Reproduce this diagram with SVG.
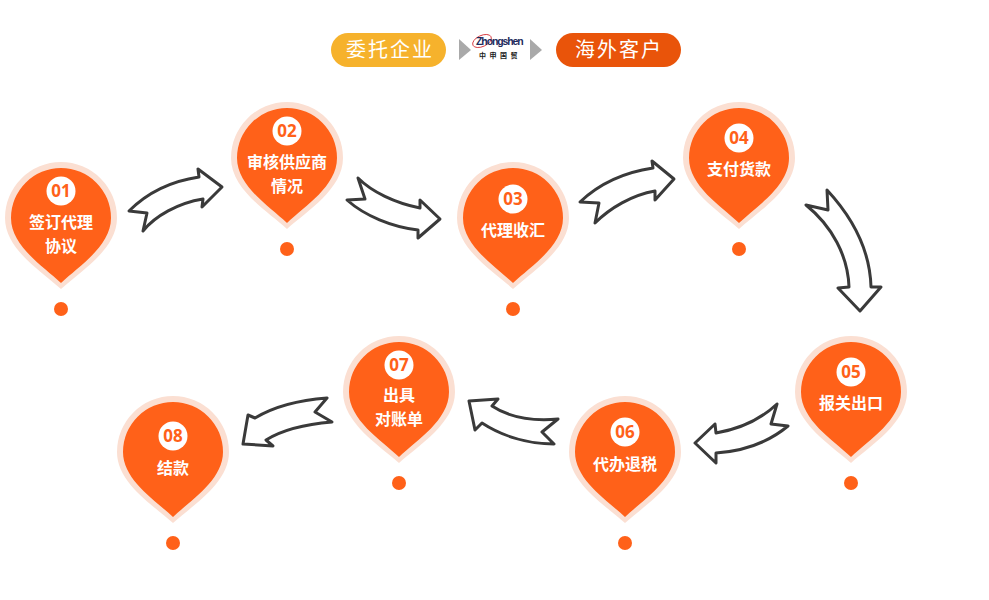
<svg xmlns="http://www.w3.org/2000/svg" width="989" height="600" viewBox="0 0 989 600">
<style>
.halo{fill:#fbdfd2}
.body{fill:#ff6119}
.dot{fill:#ff6119}
.badge{fill:#fff}
.num{font:700 17px "Open Sans","Noto Sans",sans-serif;fill:#ff6119;text-anchor:middle}
.lbl{font:700 16px "Noto Sans CJK SC",sans-serif;fill:#fff;text-anchor:middle}
.pill{font:400 20px "Noto Sans CJK SC",sans-serif;fill:#fff;text-anchor:middle;letter-spacing:2px}
.arrow{fill:#fff;stroke:#3a3a3a;stroke-width:3;stroke-linejoin:round}
.tri{fill:#a9a9a9}
</style>
<defs>
<path id="halo" d="M0,71 C-20,53 -56,31 -56,0 A56,56 0 1 1 56,0 C56,31 20,53 0,71Z"/>
<path id="body" d="M0,65 C-18,48 -50,28 -50,0 A50,50 0 1 1 50,0 C50,28 18,48 0,65Z"/>
<g id="pinbase"><use href="#halo" class="halo"/><use href="#body" class="body"/><circle cy="91" r="7" class="dot"/></g>
</defs>
<rect width="989" height="600" fill="#fff"/>
<g id="legend-client"><rect x="331" y="33" width="115" height="34" rx="17" fill="#f6b22c"/><text x="390" y="57" class="pill">委托企业</text></g>
<g id="legend-logo">
<polygon class="tri" points="459,39 471,50 459,60"/>
<polygon class="tri" points="530,39 542,50 530,60"/>
<ellipse cx="482" cy="41" rx="10" ry="5.500" fill="none" stroke="#d2232a" stroke-width="0.800" transform="rotate(-25 482 41)"/>
<text x="476" y="45" font-family="Liberation Sans,sans-serif" font-size="10.500" font-weight="700" fill="#1d2a5c" letter-spacing="-1.100">Zhongshen</text>
<text x="500" y="58" font-family="Noto Sans CJK SC,sans-serif" font-size="7" font-weight="700" fill="#222" text-anchor="middle" letter-spacing="3.500">中申国贸</text>
</g>
<g id="legend-customer"><rect x="556" y="33" width="125" height="34" rx="17" fill="#e9540a"/><text x="619" y="57" class="pill">海外客户</text></g>
<g id="connectors">
<path class="arrow" d="M129,211 L147,213 L143,231 C155,216 178,203 203,199 L202,207 L222,187 L198,169 L199,177 C172,181 147,193 129,211Z"/>
<path class="arrow" d="M347,200 L365,199 L358,178 C372,192 395,203 420,208 L420,200 L440,219 L418,238 L418,230 C392,227 365,216 347,200Z"/>
<path class="arrow" d="M580,202 L599,203 L595,223 C610,208 632,195 655,191 L655,200 L674,179 L652,161 L653,168 C626,172 600,183 580,202Z"/>
<path class="arrow" d="M806,205 L828,210 L827,190 C852,217 870,250 871,287 L881,287 L860,311 L838,288 L849,287 C848,256 832,226 806,205Z"/>
<path class="arrow" d="M788,426 L771,424 L777,404 C760,420 740,429 716,433 L715,424 L695,443 L716,463 L716,453 C745,451 770,441 788,426Z"/>
<path class="arrow" d="M469,401 L498,399 L492,406 C510,418 535,421 558,419 L542,432 L554,444 C528,444 502,436 482,423 L475,430Z"/>
<path class="arrow" d="M243,444 L273,446 L266,440 C282,430 308,424 332,422 L315,412 L327,398 C300,400 275,406 255,418 L248,415Z"/>
</g>
<g id="node-01" transform="translate(61,218)"><use href="#pinbase"/><circle cy="-27" r="14.500" class="badge"/><text y="-21" class="num">01</text><text y="10" class="lbl">签订代理</text><text y="34" class="lbl">协议</text></g>
<g id="node-02" transform="translate(287,158)"><use href="#pinbase"/><circle cy="-27" r="14.500" class="badge"/><text y="-21" class="num">02</text><text y="10" class="lbl">审核供应商</text><text y="34" class="lbl">情况</text></g>
<g id="node-03" transform="translate(513,218)"><use href="#pinbase"/><circle cy="-19" r="14.500" class="badge"/><text y="-13" class="num">03</text><text y="18" class="lbl">代理收汇</text></g>
<g id="node-04" transform="translate(739,158)"><use href="#pinbase"/><circle cy="-20" r="14.500" class="badge"/><text y="-14" class="num">04</text><text y="17" class="lbl">支付货款</text></g>
<g id="node-05" transform="translate(851,392)"><use href="#pinbase"/><circle cy="-20" r="14.500" class="badge"/><text y="-14" class="num">05</text><text y="17" class="lbl">报关出口</text></g>
<g id="node-06" transform="translate(625,452)"><use href="#pinbase"/><circle cy="-20" r="14.500" class="badge"/><text y="-14" class="num">06</text><text y="18" class="lbl">代办退税</text></g>
<g id="node-07" transform="translate(399,392)"><use href="#pinbase"/><circle cy="-27" r="14.500" class="badge"/><text y="-21" class="num">07</text><text y="9" class="lbl">出具</text><text y="33" class="lbl">对账单</text></g>
<g id="node-08" transform="translate(173,452)"><use href="#pinbase"/><circle cy="-16" r="14.500" class="badge"/><text y="-10" class="num">08</text><text y="22" class="lbl">结款</text></g>
</svg>
